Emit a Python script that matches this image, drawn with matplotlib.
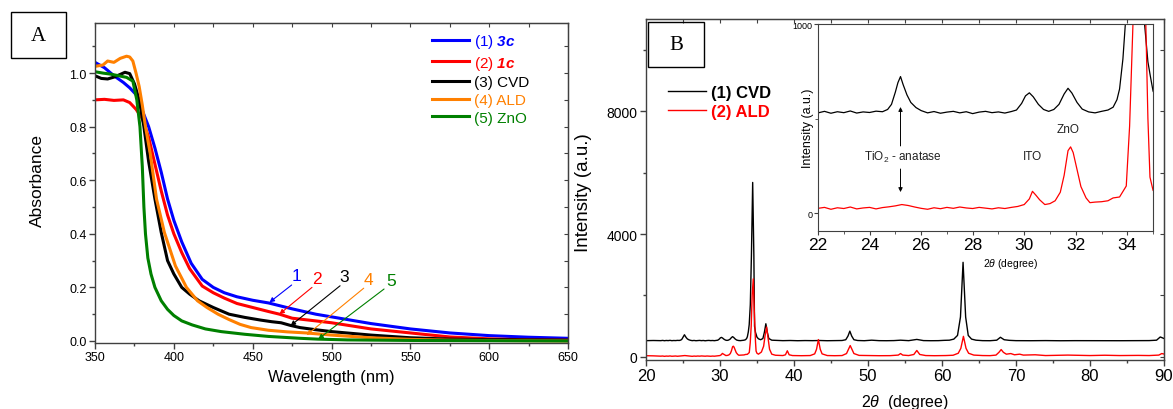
import matplotlib
matplotlib.use("Agg")
import matplotlib.pyplot as plt
from matplotlib.ticker import MultipleLocator, FixedLocator
from matplotlib.patches import Rectangle

plt.rcParams['font.family'] = ['Liberation Sans', 'DejaVu Sans']
plt.rcParams['mathtext.fontset'] = 'custom'
plt.rcParams['mathtext.rm'] = 'Liberation Sans'
plt.rcParams['mathtext.it'] = 'Liberation Sans:italic'
plt.rcParams['mathtext.bf'] = 'Liberation Sans:bold:italic'

# ---- panel A: UV-vis absorbance ----
wl_3c = [350, 356, 362, 368, 372, 376, 380, 384, 388, 392, 396, 400, 405, 411, 418, 425, 432,
         440, 450, 460, 475, 490, 500, 525, 550, 575, 600, 625, 650]
abs_3c = [1.04, 1.02, 0.99, 0.965, 0.945, 0.92, 0.86, 0.80, 0.72, 0.63, 0.53, 0.45, 0.37, 0.29,
          0.23, 0.20, 0.18, 0.165, 0.152, 0.142, 0.12, 0.10, 0.09, 0.065, 0.045, 0.03, 0.02, 0.014, 0.01]

wl_1c = [350, 356, 362, 368, 372, 376, 380, 384, 388, 392, 396, 400, 405, 410, 418, 425, 432,
         440, 450, 460, 467, 475, 490, 500, 525, 550, 575, 600, 625, 650]
abs_1c = [0.90, 0.902, 0.898, 0.90, 0.89, 0.865, 0.83, 0.76, 0.66, 0.56, 0.47, 0.40, 0.33, 0.27,
          0.205, 0.18, 0.16, 0.14, 0.125, 0.11, 0.10, 0.085, 0.075, 0.068, 0.045, 0.03, 0.015,
          0.008, 0.004, 0.003]

wl_cvd = [350, 354, 358, 362, 366, 369, 372, 375, 378, 381, 384, 388, 392, 396, 400, 405, 410,
          416, 425, 435, 445, 455, 462, 468, 474, 480, 490, 500, 525, 550, 575, 600, 625, 650]
abs_cvd = [0.99, 0.98, 0.978, 0.985, 0.995, 1.003, 0.998, 0.96, 0.90, 0.80, 0.67, 0.53, 0.405,
           0.30, 0.25, 0.20, 0.175, 0.15, 0.125, 0.10, 0.088, 0.078, 0.072, 0.068, 0.058, 0.05,
           0.042, 0.035, 0.022, 0.012, 0.007, 0.005, 0.004, 0.003]

wl_ald = [350, 355, 358, 362, 366, 370, 372, 374, 376, 378, 380, 382, 385, 389, 394, 401, 408,
          415, 421, 428, 435, 442, 449, 460, 472, 484, 500, 525, 550, 575, 600, 625, 650]
abs_ald = [1.025, 1.03, 1.045, 1.04, 1.055, 1.063, 1.06, 1.045, 1.0, 0.95, 0.88, 0.80, 0.70,
           0.53, 0.405, 0.28, 0.20, 0.15, 0.125, 0.10, 0.08, 0.062, 0.05, 0.04, 0.034, 0.03,
           0.022, 0.012, 0.006, 0.003, 0.002, 0.001, 0.0]

wl_zno = [350, 355, 360, 365, 370, 374, 376.5, 378.5, 380, 381, 382, 383.5, 385.5, 388, 392,
          396, 400, 405, 411.6, 420, 430, 445, 460, 480, 491, 510, 550, 600, 650]
abs_zno = [1.005, 1.0, 0.996, 0.99, 0.984, 0.97, 0.90, 0.80, 0.65, 0.50, 0.40, 0.31, 0.25, 0.20,
           0.15, 0.118, 0.095, 0.075, 0.06, 0.045, 0.035, 0.025, 0.017, 0.01, 0.007, 0.004,
           0.002, 0.001, 0.0]

uv_labels = ['(1) $\\mathbf{3c}$', '(2) $\\mathbf{1c}$', '(3) CVD', '(4) ALD', '(5) ZnO']
uv_colors = ['#0000ff', '#ff0000', '#000000', '#ff8000', '#008000']
uv_numbers = ['1', '2', '3', '4', '5']

# ---- panel B: XRD ----
tt_cvd = [20, 21, 22, 22.25, 22.5, 22.75, 23, 23.25, 23.5, 23.75, 24, 24.25, 24.5, 24.7, 24.85,
          25.0, 25.1, 25.2, 25.3, 25.45, 25.6, 25.8, 26.0, 26.25, 26.5, 26.75, 27.0, 27.25, 27.5,
          27.75, 28.0, 28.25, 28.5, 28.75, 29.0, 29.25, 29.5, 29.7, 29.9, 30.05, 30.2, 30.35,
          30.55, 30.75, 30.95, 31.15, 31.35, 31.55, 31.7, 31.85, 32.05, 32.25, 32.5, 32.75, 33.0,
          33.25, 33.45, 33.6, 33.7, 33.83, 33.95, 34.1, 34.25, 34.42, 34.58, 34.67, 34.8, 34.9,
          35.0, 35.2, 35.5, 35.8, 36.0, 36.2, 36.4, 36.6, 37.0, 37.5, 38.5, 39.5, 40.5, 41.5,
          42.5, 43.5, 44.5, 45.5, 46.5, 47.0, 47.3, 47.55, 47.8, 48.1, 48.6, 49.5, 50.5, 51.5,
          52.5, 53.5, 54.4, 55.5, 56.6, 57.5, 58.5, 59.5, 60.3, 61.0, 61.6, 62.1, 62.5, 62.85,
          63.2, 63.55, 64.0, 64.6, 65.5, 66.5, 67.4, 67.9, 68.4, 69.1, 70, 72, 74, 76, 78, 80,
          82, 84, 86, 88, 89.0, 89.5, 90]
int_cvd = [530, 535, 530, 538, 528, 536, 531, 540, 529, 535, 532, 539, 536, 548, 575, 640, 690,
           722, 680, 625, 585, 558, 542, 530, 537, 528, 534, 538, 530, 536, 526, 534, 538, 531,
           535, 529, 537, 545, 580, 620, 636, 615, 575, 548, 538, 548, 575, 630, 660, 635, 585,
           550, 535, 530, 538, 545, 560, 600, 656, 815, 1050, 1700, 3300, 5680, 3300, 1000, 800,
           720, 645, 590, 560, 600, 800, 1080, 800, 600, 545, 540, 530, 535, 528, 533, 530, 535,
           528, 532, 535, 560, 680, 840, 680, 560, 535, 528, 545, 530, 528, 532, 545, 530, 570,
           532, 528, 530, 540, 545, 580, 700, 1300, 3080, 1300, 700, 580, 545, 530, 528, 545,
           640, 560, 540, 530, 528, 532, 527, 530, 529, 531, 528, 530, 532, 545, 650, 600]

tt_ald = [20, 21, 22, 22.25, 22.5, 22.75, 23, 23.25, 23.5, 23.75, 24, 24.25, 24.5, 24.75, 25.0,
          25.25, 25.5, 25.75, 26.0, 26.25, 26.5, 26.75, 27.0, 27.25, 27.5, 27.75, 28.0, 28.25,
          28.5, 28.75, 29.0, 29.25, 29.5, 29.75, 30.0, 30.2, 30.32, 30.45, 30.6, 30.8, 31.0, 31.2,
          31.4, 31.55, 31.7, 31.8, 31.9, 32.05, 32.2, 32.4, 32.55, 32.75, 33.0, 33.25, 33.45,
          33.7, 33.96, 34.09, 34.22, 34.35, 34.5, 34.62, 34.72, 34.8, 34.88, 35.0, 35.2, 35.6,
          35.9, 36.1, 36.3, 36.5, 36.7, 37.0, 37.5, 38.5, 38.85, 39.1, 39.35, 39.8, 41, 42.2, 42.8,
          43.05, 43.3, 43.55, 43.8, 44.5, 45.5, 46.5, 47.1, 47.35, 47.6, 47.85, 48.1, 48.8, 50,
          51.5, 53, 54.1, 54.4, 54.7, 55.5, 56.2, 56.6, 57.0, 57.8, 59, 60.5, 61.5, 62.2, 62.55,
          62.9, 63.25, 63.6, 64.3, 65.5, 66.5, 67.3, 67.7, 68.0, 68.3, 68.7, 69.3, 69.8, 70.5,
          71, 72.6, 74, 77, 80, 82, 84, 86.5, 88, 89.3, 89.7, 90]
int_ald = [40, 35, 25, 30, 20, 28, 24, 32, 22, 27, 30, 22, 29, 33, 38, 45, 40, 32, 25, 20, 28, 23,
           30, 25, 32, 27, 24, 30, 26, 22, 28, 24, 30, 35, 45, 75, 115, 95, 70, 45, 50, 65, 110,
           200, 330, 350, 320, 230, 140, 80, 55, 58, 60, 65, 80, 85, 143, 460, 1000, 2000, 2540,
           1600, 1000, 500, 190, 120, 90, 160, 350, 700, 975, 600, 250, 90, 55, 45, 70, 200, 70,
           45, 40, 45, 100, 250, 565, 250, 100, 45, 40, 45, 110, 240, 370, 240, 110, 50, 45, 40,
           42, 60, 110, 60, 45, 80, 210, 80, 45, 40, 45, 55, 120, 280, 670, 280, 120, 60, 45, 42,
           60, 150, 240, 150, 90, 110, 70, 90, 60, 70, 45, 60, 45, 55, 45, 50, 45, 60, 110, 95]

xrd_labels = ['(1) CVD', '(2) ALD']
xrd_colors = ['#000000', '#ff0000']

fig = plt.figure(figsize=(11.73, 4.10), dpi=100)
spine_c = '#404040'


def style_axes(ax, xmaj, xmin, ymaj, ymin, lsize_x, lsize_y):
    for s in ax.spines.values():
        s.set_color(spine_c)
        s.set_linewidth(1.0)
    ax.xaxis.set_major_locator(MultipleLocator(xmaj))
    ax.xaxis.set_minor_locator(MultipleLocator(xmin))
    ax.yaxis.set_major_locator(MultipleLocator(ymaj))
    ax.yaxis.set_minor_locator(MultipleLocator(ymin))
    ax.tick_params(which='major', direction='out', length=4, width=1, color=spine_c)
    ax.tick_params(which='minor', direction='out', length=2.5, width=1, color=spine_c)
    ax.tick_params(axis='x', labelsize=lsize_x, pad=2)
    ax.tick_params(axis='y', labelsize=lsize_y, pad=2)
    # Origin-style inward ticks on the top and right frame
    top = ax.secondary_xaxis('top')
    top.xaxis.set_major_locator(MultipleLocator(xmin))
    top.tick_params(direction='in', length=3, labeltop=False, color=spine_c)
    right = ax.secondary_yaxis('right')
    right.yaxis.set_major_locator(MultipleLocator(ymin))
    right.tick_params(direction='in', length=3, labelright=False, color=spine_c)
    for s in list(top.spines.values()) + list(right.spines.values()):
        s.set_color(spine_c)


# panel A
axA = fig.add_axes([0.081, 0.161, 0.4033, 0.7805])
uv_wl = [wl_3c, wl_1c, wl_cvd, wl_ald, wl_zno]
uv_abs = [abs_3c, abs_1c, abs_cvd, abs_ald, abs_zno]
for wl, ab, lab, c in zip(uv_wl, uv_abs, uv_labels, uv_colors):
    axA.plot(wl, ab, color=c, lw=2.2, label=lab)
axA.set_xlim(350, 650)
axA.set_ylim(-0.0075, 1.187)
style_axes(axA, 50, 25, 0.2, 0.1, 9, 9)
axA.yaxis.set_major_formatter(plt.FormatStrFormatter('%.1f'))
axA.set_xlabel('Wavelength (nm)', fontsize=12, labelpad=4)
axA.set_ylabel('Absorbance', fontsize=12.5)
axA.yaxis.set_label_coords(-0.105, 0.51)
axA.legend(loc='upper left', bbox_to_anchor=(0.69, 1.005), frameon=False, fontsize=11,
           handlelength=2.4, handletextpad=0.35, labelspacing=0.24, borderpad=0.2,
           labelcolor='linecolor')

# number labels with arrows pointing to the curves
num_pos = [(477.5, 0.244), (490.6, 0.235), (508, 0.239), (523.4, 0.231), (538, 0.225)]
arrow_tail = [(474.7, 0.209), (487.6, 0.200), (505.4, 0.206), (520.4, 0.197), (533.3, 0.194)]
arrow_tip = [(460.6, 0.144), (466.9, 0.100), (474.0, 0.057), (484.2, 0.022), (491.6, 0.0075)]
for n, p, t0, t1, c in zip(uv_numbers, num_pos, arrow_tail, arrow_tip, uv_colors):
    axA.text(p[0], p[1], n, color=c, fontsize=12.5, ha='center', va='center')
    axA.annotate('', xy=t1, xytext=t0,
                 arrowprops=dict(arrowstyle='-|>', color=c, lw=0.8, mutation_scale=7,
                                 shrinkA=0, shrinkB=0))

fig.patches.append(Rectangle((0.00938, 0.856), 0.0469, 0.112, transform=fig.transFigure,
                             fill=False, edgecolor='black', lw=1.0))
fig.text(0.0328, 0.912, 'A', fontsize=15, family='Liberation Serif', ha='center', va='center')

# panel B
axB = fig.add_axes([0.5507, 0.1195, 0.4416, 0.8317])
tt_all = [tt_cvd, tt_ald]
int_all = [int_cvd, int_ald]
for tt, it, lab, c in zip(tt_all, int_all, xrd_labels, xrd_colors):
    axB.plot(tt, it, color=c, lw=1.0, label=lab)
axB.set_xlim(20, 90)
axB.set_ylim(-100, 11000)
style_axes(axB, 10, 5, 4000, 2000, 12, 10)
axB.set_xlabel('$2\\theta$  (degree)', fontsize=11.5, labelpad=6)
axB.set_ylabel('Intensity (a.u.)', fontsize=13.5)
axB.yaxis.set_label_coords(-0.105, 0.493)
axB.legend(loc='upper left', bbox_to_anchor=(0.02, 0.84), frameon=False,
           prop={'weight': 'bold', 'size': 12}, handlelength=2.3, handletextpad=0.3,
           labelspacing=0.2, borderpad=0.2, labelcolor='linecolor')

fig.patches.append(Rectangle((0.5524, 0.834), 0.0477, 0.1098, transform=fig.transFigure,
                             fill=False, edgecolor='black', lw=1.0))
fig.text(0.5763, 0.889, 'B', fontsize=15, family='Liberation Serif', ha='center', va='center')

# inset: zoom on 22-35 degrees
axI = fig.add_axes([0.6974, 0.4341, 0.2856, 0.5049])
for tt, it, c in zip(tt_all, int_all, xrd_colors):
    axI.plot(tt, it, color=c, lw=0.9)
axI.set_xlim(22, 35)
axI.set_ylim(-95, 1000)
for s in axI.spines.values():
    s.set_color(spine_c)
axI.xaxis.set_major_locator(MultipleLocator(2))
axI.xaxis.set_minor_locator(MultipleLocator(1))
axI.yaxis.set_major_locator(FixedLocator([0, 1000]))
axI.yaxis.set_minor_locator(FixedLocator([500]))
axI.tick_params(which='major', direction='out', length=3, color=spine_c)
axI.tick_params(which='minor', direction='out', length=2, color=spine_c)
axI.tick_params(axis='x', labelsize=12.5, pad=1)
axI.tick_params(axis='y', labelsize=6.5, pad=1)
axI.set_xlabel('$2\\theta$ (degree)', fontsize=7.5, labelpad=1)
axI.xaxis.set_label_coords(0.573, -0.12)
axI.set_ylabel('Intensity (a.u.)', fontsize=9, labelpad=0)
axI.yaxis.set_label_coords(-0.012, 0.5)
axI.text(25.3, 302, 'TiO$_2$ - anatase', fontsize=8.5, ha='center', va='center', color='#222222')
axI.text(31.7, 444, 'ZnO', fontsize=8.5, ha='center', va='center', color='#222222')
axI.text(30.3, 302, 'ITO', fontsize=8.5, ha='center', va='center', color='#222222')
axI.annotate('', xy=(25.2, 561), xytext=(25.2, 355),
             arrowprops=dict(arrowstyle='-|>', color='black', lw=0.7, mutation_scale=6,
                             shrinkA=0, shrinkB=0))
axI.annotate('', xy=(25.2, 111), xytext=(25.2, 233),
             arrowprops=dict(arrowstyle='-|>', color='black', lw=0.7, mutation_scale=6,
                             shrinkA=0, shrinkB=0))

fig.savefig('out.png', dpi=100)
